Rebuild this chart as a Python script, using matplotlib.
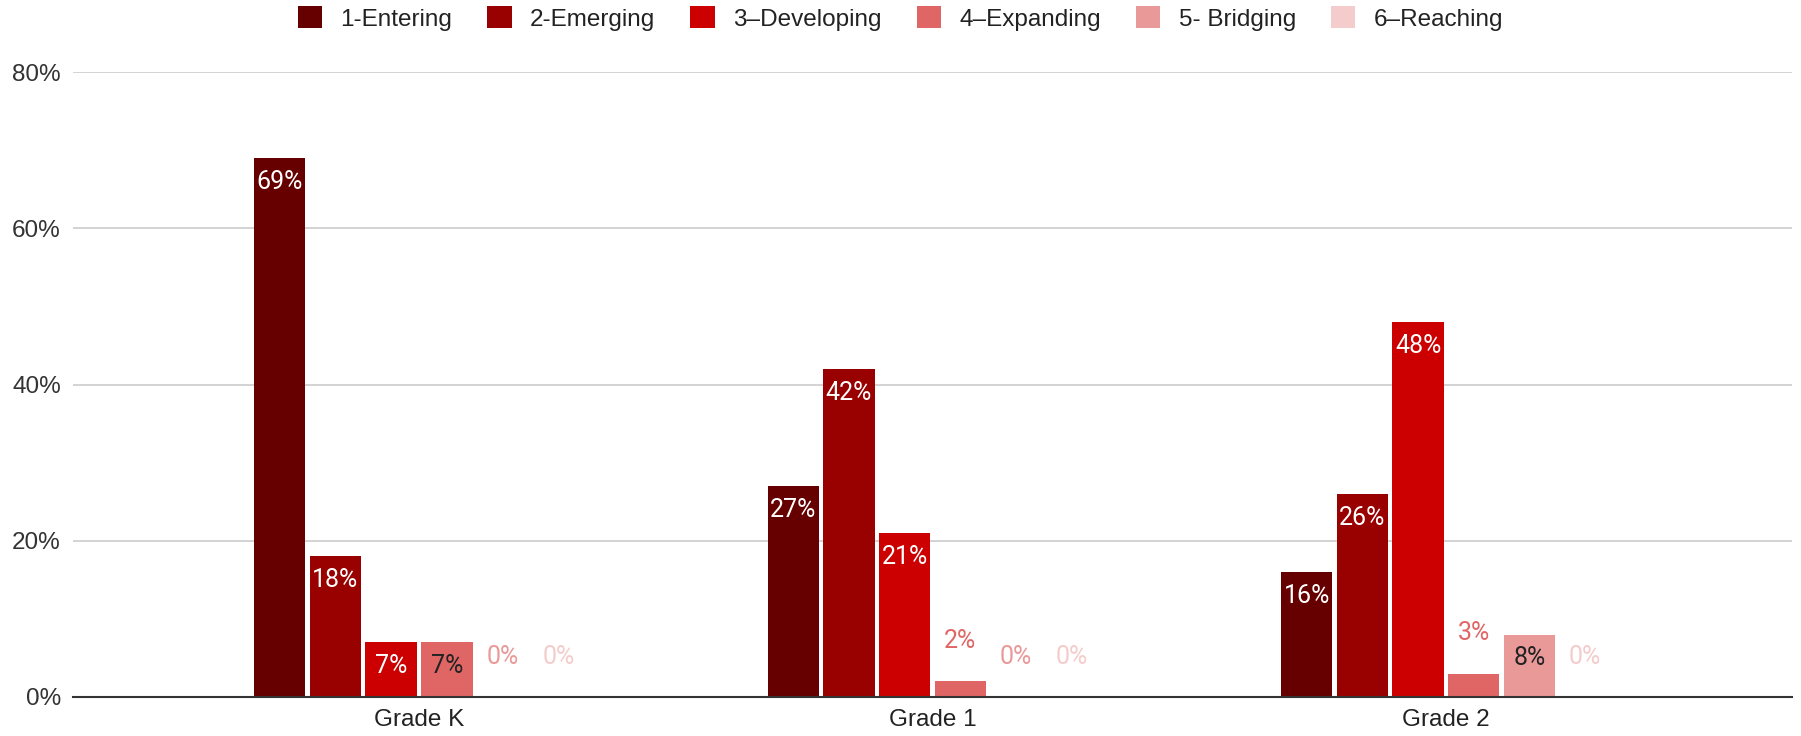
import matplotlib.pyplot as plt
import numpy as np

grades = ['Grade K', 'Grade 1', 'Grade 2']
levels = ['1-Entering', '2-Emerging', '3–Developing', '4–Expanding', '5- Bridging', '6–Reaching']
entering = [69, 27, 16]
emerging = [18, 42, 26]
developing = [7, 21, 48]
expanding = [7, 2, 3]
bridging = [0, 0, 8]
reaching = [0, 0, 0]
series = [entering, emerging, developing, expanding, bridging, reaching]
cores = ['#660000', '#990000', '#cc0000', '#e06666', '#ea9999', '#f4cccc']
# cor do texto dentro da barra
cor_texto = ['white', 'white', 'white', '#222222', '#222222', '#222222']

fig = plt.figure(figsize=(18.01, 7.36), dpi=100)
ax = fig.add_axes([0.0405, 0.053, 0.9545, 0.849])

x = np.arange(len(grades))
passo = 0.1085
largura = 0.1
for i, vals in enumerate(series):
    pos = x + (i - 2.5) * passo
    barras = ax.bar(pos, vals, width=largura, color=cores[i], label=levels[i], zorder=3)
    for b, v in zip(barras, vals):
        cx = b.get_x() + b.get_width() / 2
        if v >= 5:
            ax.annotate(f'{v}%', (cx, v), xytext=(0, -17), textcoords='offset points',
                        ha='center', va='center', fontsize=18, family='Roboto',
                        color=cor_texto[i], zorder=4)
        else:
            ax.annotate(f'{v}%', (cx, v), xytext=(0, 29), textcoords='offset points',
                        ha='center', va='center', fontsize=18, family='Roboto',
                        color=cores[i], zorder=4)

ax.set_xlim(-0.674, 2.674)
ax.set_ylim(0, 80)
ax.set_yticks([0, 20, 40, 60, 80])
ax.set_yticklabels([f'{t}%' for t in [0, 20, 40, 60, 80]])
ax.set_xticks(x)
ax.set_xticklabels(grades)
ax.tick_params(axis='y', length=0, pad=8.6, labelsize=17.5, labelcolor='#333333')
ax.tick_params(axis='x', length=0, pad=9, labelsize=17.5, labelcolor='#222222')
for lab in ax.get_xticklabels() + ax.get_yticklabels():
    lab.set_family('Liberation Sans')
ax.grid(axis='y', color='#cccccc', linewidth=1.2, zorder=0)
for s in ['top', 'right', 'left']:
    ax.spines[s].set_visible(False)
ax.spines['bottom'].set_color('#333333')
ax.spines['bottom'].set_linewidth(1.5)
ax.spines['bottom'].set_zorder(5)

fig.legend(loc='center', bbox_to_anchor=(0.5, 0.975), ncol=6, frameon=False,
           prop={'family': 'Liberation Sans', 'size': 17.5}, handlelength=1.0,
           handleheight=1.0, handletextpad=0.75, columnspacing=1.45, labelcolor='#222222')

plt.savefig('out.png', dpi=100)
